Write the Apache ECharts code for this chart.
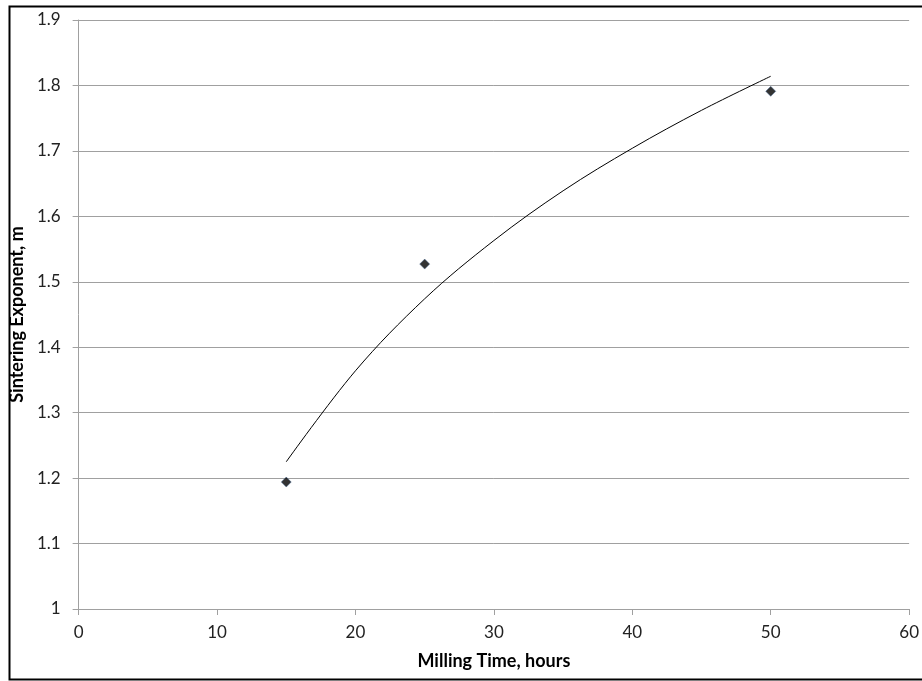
<!DOCTYPE html>
<html><head><meta charset="utf-8">
<script src="https://cdn.jsdelivr.net/npm/echarts@6/dist/echarts.min.js"></script>
<style>html,body{margin:0;padding:0;background:#fff}#c{width:922px;height:681px}</style>
</head><body><div id="c"></div>
<script>
const millingTime = [15, 25, 50];
const sinteringExponent = [1.194, 1.527, 1.791];
// trendline points
const trendX = [15, 20, 25, 30, 35, 40, 45, 50];
const trendY = [1.225, 1.364, 1.474, 1.563, 1.639, 1.704, 1.762, 1.814];
const xTicks = {min: 0, max: 60, interval: 10};
const yTicks = {min: 1, max: 1.9, interval: 0.1};

const font = 'Lato, "Open Sans", sans-serif';
const chart = echarts.init(document.getElementById('c'), null, {renderer: 'canvas'});
chart.setOption({
  animation: false,
  backgroundColor: '#fff',
  grid: {left: 77, right: 9, top: 20, bottom: 72, containLabel: false},
  graphic: [{type: 'rect', shape: {x: 9.5, y: 6.5, width: 930, height: 673}, style: {fill: 'none', stroke: '#000', lineWidth: 2}, silent: true}],
  xAxis: {
    type: 'value', min: xTicks.min, max: xTicks.max, interval: xTicks.interval,
    name: 'Milling Time, hours', nameLocation: 'middle', nameGap: 43,
    nameTextStyle: {fontFamily: font, fontSize: 18, fontWeight: 'bold', color: '#000'},
    axisLine: {show: true, lineStyle: {color: '#a0a0a0', width: 1}},
    axisTick: {show: true, length: 6, inside: false, lineStyle: {color: '#a0a0a0'}},
    axisLabel: {fontFamily: font, fontSize: 17, color: '#222', margin: 15},
    splitLine: {show: false}
  },
  yAxis: {
    type: 'value', min: yTicks.min, max: yTicks.max, interval: yTicks.interval,
    name: 'Sintering Exponent, m', nameLocation: 'middle', nameGap: 47,
    nameTextStyle: {fontFamily: font, fontSize: 18, fontWeight: 'bold', color: '#000'},
    axisLine: {show: true, lineStyle: {color: '#a0a0a0', width: 1}},
    axisTick: {show: true, length: 6, inside: false, lineStyle: {color: '#a0a0a0'}},
    axisLabel: {fontFamily: font, fontSize: 17, color: '#222', margin: 18,
      formatter: v => String(Math.round(v * 10) / 10)},
    splitLine: {show: true, lineStyle: {color: '#a0a0a0', width: 1}}
  },
  series: [
    {type: 'line', data: trendX.map((x, i) => [x, trendY[i]]), smooth: 0.35, showSymbol: false,
     lineStyle: {color: '#000', width: 1}, z: 2, silent: true},
    {type: 'scatter', data: millingTime.map((x, i) => [x, sinteringExponent[i]]),
     symbol: 'diamond', symbolSize: 10,
     itemStyle: {color: '#000', borderColor: '#4a6e9a', borderWidth: 0.6}, z: 3}
  ]
});
</script></body></html>
